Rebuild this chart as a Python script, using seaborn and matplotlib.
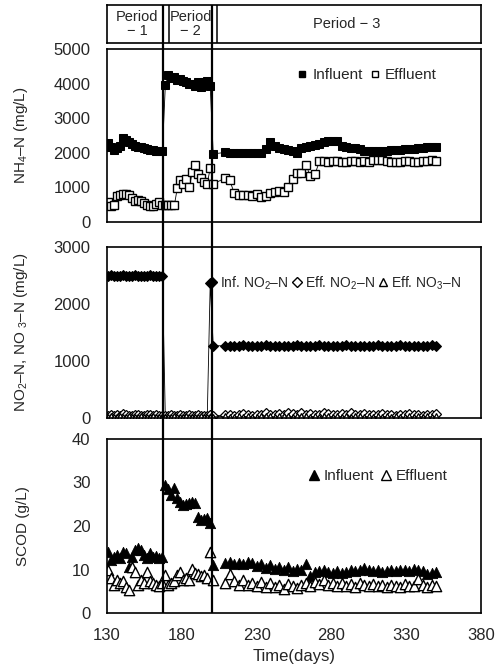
import matplotlib
matplotlib.use("Agg")
import matplotlib.pyplot as plt
import numpy as np
import pandas as pd
import seaborn as sns
from matplotlib.lines import Line2D

# ---------------- data ----------------
days_p1 = [131, 133, 135, 137, 139, 141, 143, 145, 147, 149, 151, 153, 155, 157, 159, 161, 163, 165, 167]
days_p2 = [169, 171, 173, 175, 177, 179, 181, 183, 185, 187, 189, 191, 193, 195, 197, 199]
days_p3 = [201, 209, 212, 215, 218, 221, 224, 227, 230, 233, 236, 239, 242, 245, 248, 251, 254, 257, 260,
           263, 266, 269, 272, 275, 278, 281, 284, 287, 290, 293, 296, 299, 302, 305, 308, 311, 314, 317,
           320, 323, 326, 329, 332, 335, 338, 341, 344, 347, 350]

nh4_inf_p1 = [2280, 2180, 2090, 2140, 2200, 2420, 2380, 2320, 2250, 2210, 2180, 2160, 2130, 2100, 2090, 2070, 2050, 2040, 2040]
nh4_inf_p2 = [3950, 4250, 4150, 4200, 4100, 4120, 4080, 4050, 4000, 3980, 3920, 4050, 3900, 4060, 4080, 3930]
nh4_inf_p3 = [1970, 2010, 2000, 1990, 2000, 1990, 1990, 1980, 2000, 1990, 2100, 2300, 2200, 2150, 2100, 2080,
              2050, 2000, 2150, 2180, 2200, 2230, 2250, 2320, 2350, 2350, 2340, 2200, 2180, 2150, 2130, 2100,
              2060, 2050, 2050, 2060, 2050, 2060, 2070, 2080, 2090, 2100, 2100, 2120, 2130, 2150, 2170, 2180, 2180]

nh4_eff_p1 = [590, 470, 500, 740, 780, 800, 810, 790, 700, 600, 640, 620, 560, 500, 470, 450, 520, 590, 480]
nh4_eff_p2 = [490, 500, 490, 480, 980, 1200, 1100, 1250, 1000, 1450, 1650, 1400, 1280, 1150, 1100, 1560]
nh4_eff_p3 = [1100, 1270, 1200, 850, 790, 780, 780, 760, 800, 730, 760, 850, 880, 900, 880, 1000, 1250,
              1420, 1420, 1650, 1320, 1380, 1750, 1760, 1740, 1750, 1760, 1720, 1740, 1760, 1750, 1730, 1750,
              1740, 1800, 1780, 1790, 1760, 1720, 1740, 1720, 1760, 1770, 1740, 1730, 1750, 1770, 1780, 1770]

no2_inf_p1 = [2500, 2510, 2500, 2490, 2500, 2505, 2500, 2495, 2500, 2510, 2500, 2500, 2490, 2500, 2505, 2500, 2500, 2495, 2500]
no2_inf_p2 = [0, 0, 0, 0, 0, 0, 0, 0, 0, 0, 0, 0, 0, 0, 0, 2370]
no2_inf_p3 = [1270, 1265, 1270, 1260, 1270, 1275, 1265, 1270, 1260, 1270, 1275, 1270, 1265, 1270, 1270, 1260,
              1270, 1275, 1270, 1265, 1270, 1270, 1275, 1265, 1270, 1260, 1270, 1270, 1275, 1270, 1265, 1270,
              1270, 1260, 1270, 1275, 1270, 1265, 1270, 1270, 1275, 1270, 1265, 1270, 1270, 1260, 1270, 1275, 1270]

no2_eff_p1 = [40, 60, 30, 50, 40, 70, 50, 30, 40, 60, 50, 40, 30, 50, 60, 40, 50, 30, 40]
no2_eff_p2 = [30, 40, 50, 30, 40, 50, 30, 40, 60, 40, 30, 50, 40, 30, 40, 50]
no2_eff_p3 = [40, 50, 60, 40, 50, 70, 50, 40, 60, 50, 80, 60, 50, 70, 60, 90, 70, 60, 80, 60, 70, 50, 60,
              80, 70, 60, 50, 70, 60, 80, 60, 50, 70, 60, 50, 60, 70, 50, 60, 40, 60, 50, 70, 50, 60, 40, 50, 60, 70]

no3_eff_p1 = [20, 30, 10, 20, 30, 20, 10, 30, 20, 20, 10, 30, 20, 10, 20, 30, 20, 10, 20]
no3_eff_p2 = [10, 20, 10, 30, 20, 10, 20, 30, 10, 20, 20, 10, 30, 20, 10, 20]
no3_eff_p3 = [20, 30, 20, 10, 30, 20, 30, 20, 10, 30, 40, 30, 20, 30, 40, 30, 20, 30, 40, 30, 20, 30, 20,
              30, 40, 20, 30, 20, 30, 20, 30, 40, 20, 30, 20, 30, 20, 30, 20, 30, 20, 10, 30, 20, 30, 20, 30, 20, 30]

cod_inf_p1 = [14.1, 12.2, 12.9, 13.3, 12.6, 14.1, 13.8, 10.6, 12.9, 14.5, 14.9, 14.5, 13.3, 12.6, 13.7, 12.9, 13.0, 12.6, 12.8]
cod_inf_p2 = [29.4, 28.5, 27.1, 28.7, 26.4, 25.5, 24.8, 25.0, 25.3, 25.6, 25.3, 22.1, 21.4, 21.6, 21.8, 20.8]
cod_inf_p3 = [11.0, 11.5, 11.8, 11.2, 11.6, 11.3, 11.7, 11.4, 10.9, 11.2, 10.3, 11.0, 10.1, 10.5, 9.9, 10.6,
              9.6, 10.2, 9.8, 11.2, 8.6, 9.4, 9.7, 9.9, 9.5, 9.2, 9.6, 9.1, 9.5, 9.8, 9.6, 10.0, 10.4, 10.0,
              9.6, 9.8, 9.5, 9.7, 9.9, 9.6, 9.8, 10.0, 9.7, 10.2, 10.0, 9.6, 8.9, 9.3, 9.5]

cod_eff_p1 = [9.9, 8.0, 6.5, 7.7, 7.0, 7.3, 6.0, 5.3, 10.6, 9.5, 6.5, 7.7, 7.0, 9.5, 7.3, 7.0, 6.5, 6.1, 6.8]
cod_eff_p2 = [8.7, 6.5, 6.8, 7.3, 8.7, 9.5, 7.5, 8.0, 7.7, 10.2, 9.1, 9.0, 8.5, 8.8, 8.0, 14.1]
cod_eff_p3 = [7.7, 6.9, 8.9, 7.4, 6.5, 7.6, 6.4, 7.0, 6.2, 7.2, 6.0, 6.8, 5.9, 6.5, 5.6, 6.6, 6.2, 5.7,
              6.5, 6.9, 6.1, 7.1, 6.6, 7.5, 6.4, 7.0, 6.3, 6.8, 6.2, 6.6, 6.0, 6.9, 6.4, 6.2, 6.7, 6.1,
              6.5, 6.0, 6.4, 6.2, 5.9, 6.6, 6.1, 6.3, 7.8, 6.5, 6.0, 6.4, 6.2]

period_bounds = [167.5, 200.3]
header_inner = [171.3, 203.6]
period_labels = ["Period\n\u2212 1", "Period\n\u2212 2", "Period \u2212 3"]
period_label_x = [150, 186, 290]
x_ticks = [130, 180, 230, 280, 330, 380]

# ---------------- frame ----------------
days = days_p1 + days_p2 + days_p3
df = pd.DataFrame({
    "day": days,
    "nh4_inf": nh4_inf_p1 + nh4_inf_p2 + nh4_inf_p3,
    "nh4_eff": nh4_eff_p1 + nh4_eff_p2 + nh4_eff_p3,
    "no2_inf": no2_inf_p1 + no2_inf_p2 + no2_inf_p3,
    "no2_eff": no2_eff_p1 + no2_eff_p2 + no2_eff_p3,
    "no3_eff": no3_eff_p1 + no3_eff_p2 + no3_eff_p3,
    "cod_inf": cod_inf_p1 + cod_inf_p2 + cod_inf_p3,
    "cod_eff": cod_eff_p1 + cod_eff_p2 + cod_eff_p3,
})

sns.set_theme(style="white")
plt.rcParams["font.family"] = ["Liberation Sans", "DejaVu Sans"]
plt.rcParams["mathtext.fontset"] = "custom"
plt.rcParams["mathtext.rm"] = "Liberation Sans"
plt.rcParams["axes.edgecolor"] = "black"
plt.rcParams["axes.linewidth"] = 1.2

fig = plt.figure(figsize=(5.02, 6.70), dpi=100)
L, W = 107 / 502, 374 / 502

def fy(top, bottom):
    return [L, 1 - bottom / 670, W, (bottom - top) / 670]

ax_h = fig.add_axes(fy(5, 43))
ax1 = fig.add_axes(fy(49, 222))
ax2 = fig.add_axes(fy(247, 418))
ax3 = fig.add_axes(fy(439, 613))
ax_o = fig.add_axes(fy(5, 613), facecolor="none")

for ax in (ax_h, ax1, ax2, ax3, ax_o):
    ax.set_xlim(130, 380)

# header
ax_h.set_ylim(0, 1)
ax_h.set_xticks([]); ax_h.set_yticks([])
for xv in header_inner:
    ax_h.axvline(xv, color="black", lw=1.1)
for lab, xv in zip(period_labels, period_label_x):
    ax_h.text(xv, 0.5, lab, ha="center", va="center", fontsize=10.5, linespacing=1.05)

# overlay period lines
ax_o.set_ylim(0, 1)
ax_o.axis("off")
for xv in period_bounds:
    ax_o.axvline(xv, color="black", lw=1.6)

tick_kw = dict(direction="in", length=3, width=0.6, labelsize=12, color="black")

# panel 1
sns.lineplot(data=df, x="day", y="nh4_inf", ax=ax1, color="black", lw=0.6, marker="s",
             markersize=5.8, markerfacecolor="black", markeredgecolor="black")
sns.lineplot(data=df, x="day", y="nh4_eff", ax=ax1, color="black", lw=0.6, marker="s",
             markersize=5.8, markerfacecolor="white", markeredgecolor="black", markeredgewidth=1.0)
ax1.set_ylim(0, 5000)
ax1.set_yticks([0, 1000, 2000, 3000, 4000, 5000])
ax1.set_ylabel("NH$\\mathregular{_4}$\u2013N (mg/L)", fontsize=11)
h1 = [Line2D([], [], ls="none", marker="s", ms=5, mfc="black", mec="black"),
      Line2D([], [], ls="none", marker="s", ms=5, mfc="white", mec="black")]
ax1.legend(h1, ["Influent", "Effluent"], loc="center left", bbox_to_anchor=(0.51, 0.85),
           frameon=False, ncol=2, fontsize=11, handlelength=0.6, handletextpad=0.35,
           columnspacing=0.5, borderpad=0, borderaxespad=0)

# panel 2
sns.lineplot(data=df, x="day", y="no2_inf", ax=ax2, color="black", lw=0.6, marker="D",
             markersize=5, markerfacecolor="black", markeredgecolor="black")
sns.lineplot(data=df, x="day", y="no2_eff", ax=ax2, color="black", lw=0.6, marker="D",
             markersize=5, markerfacecolor="white", markeredgecolor="black", markeredgewidth=0.9)
sns.lineplot(data=df, x="day", y="no3_eff", ax=ax2, color="black", lw=0.6, marker="^",
             markersize=5, markerfacecolor="white", markeredgecolor="black", markeredgewidth=0.9)
ax2.set_ylim(0, 3000)
ax2.set_yticks([0, 1000, 2000, 3000])
ax2.set_ylabel("NO$\\mathregular{_2}$\u2013N, NO $\\mathregular{_3}$\u2013N (mg/L)", fontsize=11)
h2 = [Line2D([], [], ls="none", marker="D", ms=5, mfc="black", mec="black"),
      Line2D([], [], ls="none", marker="D", ms=5, mfc="white", mec="black"),
      Line2D([], [], ls="none", marker="^", ms=5.5, mfc="white", mec="black")]
ax2.legend(h2, ["Inf. NO$\\mathregular{_2}$\u2013N", "Eff. NO$\\mathregular{_2}$\u2013N",
                "Eff. NO$\\mathregular{_3}$\u2013N"], loc="center left", bbox_to_anchor=(0.27, 0.79),
           frameon=False, ncol=3, fontsize=10, handlelength=0.6, handletextpad=0.3,
           columnspacing=0.25, borderpad=0, borderaxespad=0)

# panel 3
sns.scatterplot(data=df, x="day", y="cod_inf", ax=ax3, marker="^", s=55, color="black",
                edgecolor="black", linewidth=0.6)
sns.scatterplot(data=df, x="day", y="cod_eff", ax=ax3, marker="^", s=55, facecolor="white",
                edgecolor="black", linewidth=1.0)
ax3.set_ylim(0, 40)
ax3.set_yticks([0, 10, 20, 30, 40])
ax3.set_ylabel("SCOD (g/L)", fontsize=11)
h3 = [Line2D([], [], ls="none", marker="^", ms=7, mfc="black", mec="black"),
      Line2D([], [], ls="none", marker="^", ms=7, mfc="white", mec="black")]
ax3.legend(h3, ["Influent", "Effluent"], loc="center left", bbox_to_anchor=(0.54, 0.787),
           frameon=False, ncol=2, fontsize=11, handlelength=0.6, handletextpad=0.35,
           columnspacing=0.5, borderpad=0, borderaxespad=0)

for ax in (ax1, ax2, ax3):
    ax.set_xticks(x_ticks)
    ax.tick_params(axis="both", **tick_kw)
    ax.tick_params(axis="y", pad=12)
    ax.yaxis.set_label_coords(-0.205, 0.5)
    ax.set_xlabel("")
for ax in (ax1, ax2):
    ax.tick_params(axis="x", labelbottom=False)
ax3.tick_params(axis="x", pad=11)
ax3.set_xlabel("Time(days)", fontsize=12, labelpad=4)

fig.savefig("out.png", dpi=100)
